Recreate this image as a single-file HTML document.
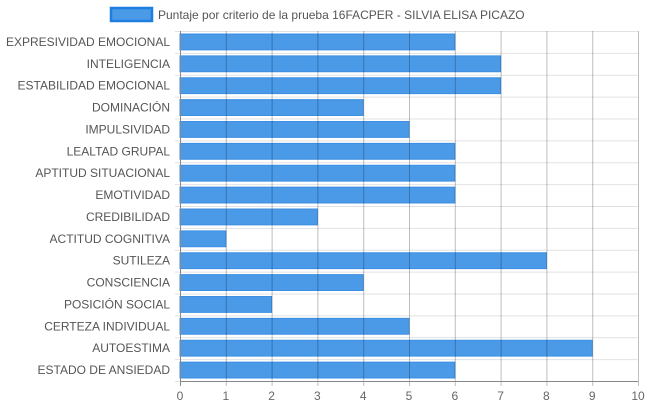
<!DOCTYPE html>
<html><head><meta charset="utf-8"><style>
html,body{margin:0;padding:0;background:#fff;}
svg{display:block;font-family:"Liberation Sans",Arial,sans-serif;}
</style></head><body>
<svg id="chart" width="648" height="410">
<g>
<rect x="111" y="8" width="41" height="13" fill="#4a9ae8" stroke="#1f7fe0" stroke-width="2.5"/>
<text x="158" y="19" font-size="12" fill="#555">Puntaje por criterio de la prueba 16FACPER - SILVIA ELISA PICAZO</text>
</g>
<g id="grid"></g><g id="bars"></g><g id="overlay"></g><g id="labels"></g>
</svg>
<script>
const categories=["EXPRESIVIDAD EMOCIONAL","INTELIGENCIA","ESTABILIDAD EMOCIONAL","DOMINACIÓN","IMPULSIVIDAD","LEALTAD GRUPAL","APTITUD SITUACIONAL","EMOTIVIDAD","CREDIBILIDAD","ACTITUD COGNITIVA","SUTILEZA","CONSCIENCIA","POSICIÓN SOCIAL","CERTEZA INDIVIDUAL","AUTOESTIMA","ESTADO DE ANSIEDAD"];
const values=[6,7,7,4,5,6,6,6,3,1,8,4,2,5,9,6];
const xTicks=[0,1,2,3,4,5,6,7,8,9,10];
const NS="http://www.w3.org/2000/svg";
const L=180,R=638,T=31,B=381,xMax=10;
const x=v=>L+(R-L)*v/xMax;
const band=(B-T)/categories.length;
const y=i=>T+band*i;
function mk(tag,attrs,parent){const e=document.createElementNS(NS,tag);for(const k in attrs)e.setAttribute(k,attrs[k]);parent.appendChild(e);return e;}
const grid=document.getElementById('grid'),bars=document.getElementById('bars'),ov=document.getElementById('overlay'),lab=document.getElementById('labels');
for(let i=0;i<=categories.length;i++){
  const l=mk('line',{x1:L-5,x2:R,y1:y(i)+0.5,y2:y(i)+0.5,stroke:'#e2e2e2'},grid);
  
  
}
categories.forEach((c,i)=>{
  const r=mk('rect',{x:x(0),y:y(i)+3,width:x(values[i])-x(0),height:band-6,fill:'#4a9ae8',stroke:'#3d8fe3','stroke-width':1},bars);
  
  
  const t=mk('text',{x:L-10,y:y(i)+band/2+4,'text-anchor':'end','font-size':12,fill:'#555'},lab);
  t.textContent=c;
  
  
});
xTicks.forEach(v=>{
  const l=mk('line',{x1:x(v)+0.5,x2:x(v)+0.5,y1:T,y2:B+5,stroke:v===0?'#888':'rgba(0,0,0,0.25)'},ov);
  
  
  const t=mk('text',{x:x(v),y:B+19,'text-anchor':'middle','font-size':12,fill:'#666'},lab);
  t.textContent=v;
  
  
});
const ax=mk('line',{x1:L,x2:R,y1:B+0.5,y2:B+0.5,stroke:'#888'},ov);


</script>
</body></html>
